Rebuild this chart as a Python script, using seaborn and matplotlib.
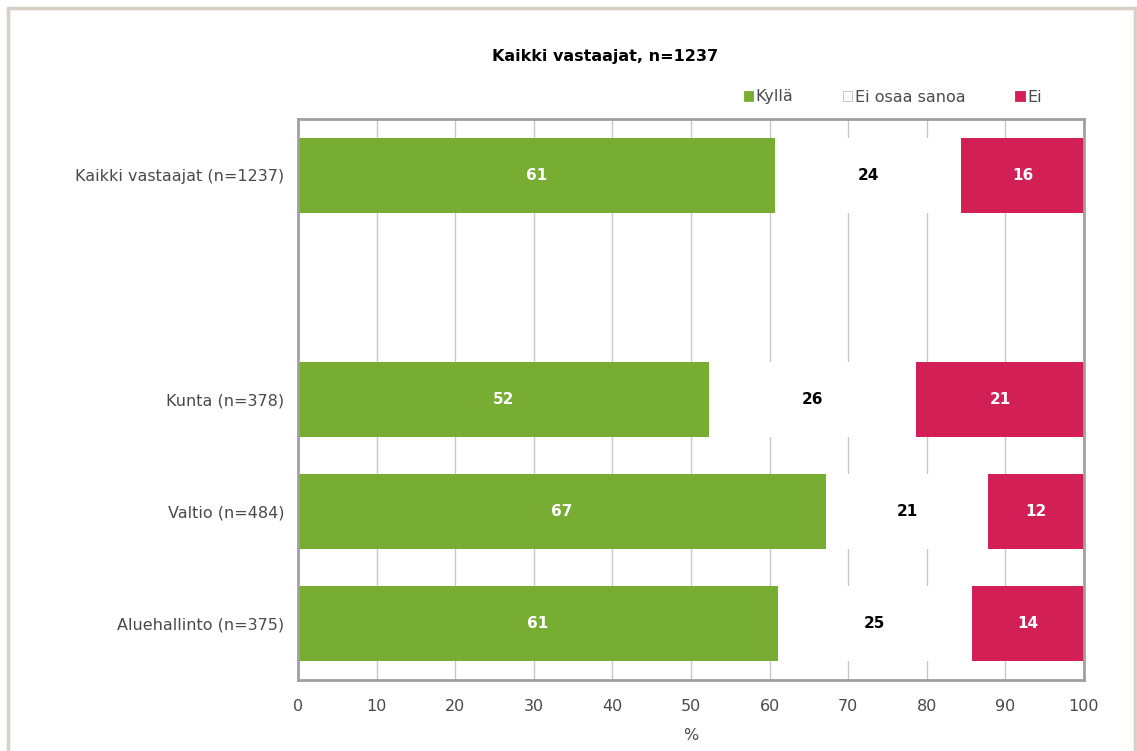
import numpy as np
import pandas as pd
import seaborn as sns
from matplotlib import pyplot as plt
from matplotlib.patches import Patch
from matplotlib.lines import Line2D

sns.set_style("white")
plt.rcParams["font.family"] = ["DejaVu Sans"]

# 数据
groups = ["Kaikki vastaajat (n=1237)", "Kunta (n=378)", "Valtio (n=484)", "Aluehallinto (n=375)"]
kylla = [60.7, 52.3, 67.2, 61.1]
ei_osaa = [23.7, 26.3, 20.6, 24.6]
ei = [15.6, 21.4, 12.2, 14.3]
series_names = ["Kyllä", "Ei osaa sanoa", "Ei"]
colors = ["#78ad33", "#ffffff", "#d21f55"]
xticks = [0, 10, 20, 30, 40, 50, 60, 70, 80, 90, 100]

# 行顺序，第一行后面留一个空行
row_order = [groups[0], " ", groups[1], groups[2], groups[3]]

df = pd.DataFrame({"ryhma": groups, "Kyllä": kylla, "Ei osaa sanoa": ei_osaa, "Ei": ei})
df["c1"] = df["Kyllä"]
df["c2"] = df["Kyllä"] + df["Ei osaa sanoa"]
df["c3"] = df["c2"] + df["Ei"]

fig = plt.figure(figsize=(11.37, 7.51), dpi=100)
ax = fig.add_axes([298 / 1137, 1 - 680 / 751, (1084 - 298) / 1137, (680 - 119) / 751])

# 堆叠条形图：从总和往回画
for col, c in zip(["c3", "c2", "c1"], colors[::-1]):
    sns.barplot(data=df, x=col, y="ryhma", order=row_order, color=c,
                width=0.67, saturation=1, edgecolor="none", ax=ax, orient="h")

ax.set_xlim(0, 100)
ax.set_ylim(4.5, -0.5)
ax.set_xticks(xticks)
ax.set_xticklabels([str(t) for t in xticks])
ax.grid(axis="x", color="#c8c8c8", linewidth=1)
ax.set_axisbelow(True)
for s in ax.spines.values():
    s.set_color("#a0a0a0")
    s.set_linewidth(2)
ax.tick_params(axis="both", length=0, labelsize=11.5, labelcolor="#4a4a4a")
ax.tick_params(axis="x", pad=14)
ax.tick_params(axis="y", pad=10)
ax.set_ylabel("")
ax.set_xlabel("%", fontsize=11.5, color="#4a4a4a", labelpad=10)

# 数值标签
for i, g in enumerate(groups):
    row = row_order.index(g)
    vals = [kylla[i], ei_osaa[i], ei[i]]
    left = 0
    for v, tc in zip(vals, ["white", "black", "white"]):
        ax.text(left + v / 2, row, f"{v:.0f}", ha="center", va="center",
                fontsize=11, fontweight="bold", color=tc)
        left += v

fig.text(605 / 1137, 1 - 57 / 751, "Kaikki vastaajat, n=1237", ha="center", va="center",
         fontsize=11.5, fontweight="bold", color="black")

handles = [Patch(facecolor=c, edgecolor="#bbbbbb" if c == "#ffffff" else c, linewidth=0.6)
           for c in colors]
fig.legend(handles, series_names, loc="center right", bbox_to_anchor=(1056 / 1137, 1 - 97 / 751),
           ncol=3, frameon=False, handlelength=0.6, handleheight=0.6, handletextpad=0.15,
           columnspacing=3.1, fontsize=11.5, labelcolor="#4a4a4a")

# 外框
fc = "#d8d0c4"
fig.add_artist(Line2D([8 / 1137, 1135 / 1137], [1 - 8 / 751] * 2, color=fc, linewidth=2.5))
fig.add_artist(Line2D([8 / 1137] * 2, [0, 1 - 8 / 751], color=fc, linewidth=2.5))
fig.add_artist(Line2D([1135 / 1137] * 2, [0, 1 - 8 / 751], color=fc, linewidth=2.5))

fig.savefig("out.png", dpi=100, facecolor="white")
